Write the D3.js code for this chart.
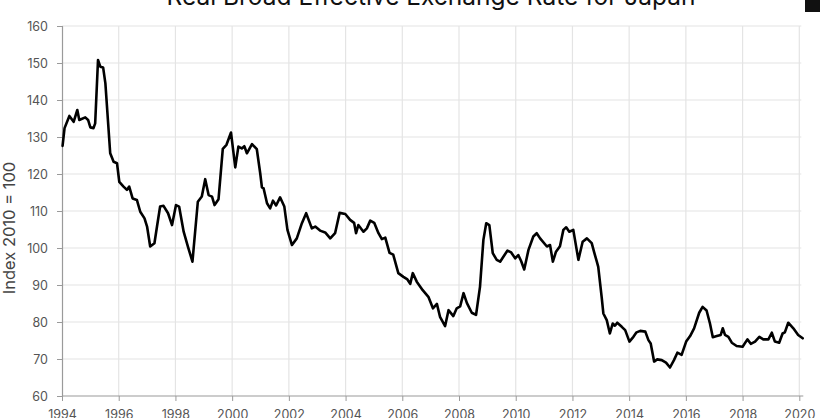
<!DOCTYPE html>
<html>
<head>
<meta charset="utf-8">
<script src="https://cdn.jsdelivr.net/npm/d3@7"></script>
<style>
  html, body { margin: 0; padding: 0; background: #fff; }
  svg { display: block; font-family: Inter, "Open Sans", sans-serif; }
</style>
</head>
<body>
<svg id="chart" width="820" height="418"></svg>
<script>
const title = "Real Broad Effective Exchange Rate for Japan";
const yLabel = "Index 2010 = 100";
const xTickValues = [1994, 1996, 1998, 2000, 2002, 2004, 2006, 2008, 2010, 2012, 2014, 2016, 2018, 2020];
const yTickValues = [60, 70, 80, 90, 100, 110, 120, 130, 140, 150, 160];

const years = [
  1994.02, 1994.09, 1994.26, 1994.41, 1994.54, 1994.61, 1994.82, 1994.92, 1995.00, 1995.11,
  1995.17, 1995.27, 1995.35, 1995.45, 1995.53, 1995.70, 1995.82, 1995.94, 1996.02, 1996.17,
  1996.29, 1996.37, 1996.49, 1996.64, 1996.76, 1996.91, 1997.00, 1997.11, 1997.26, 1997.35,
  1997.46, 1997.58, 1997.74, 1997.88, 1998.02, 1998.13, 1998.29, 1998.44, 1998.60, 1998.79,
  1998.93, 1999.05, 1999.17, 1999.29, 1999.38, 1999.52, 1999.67, 1999.80, 1999.96, 2000.11,
  2000.22, 2000.34, 2000.43, 2000.52, 2000.70, 2000.87, 2000.99, 2001.05, 2001.11, 2001.23,
  2001.34, 2001.44, 2001.55, 2001.69, 2001.84, 2001.95, 2002.11, 2002.28, 2002.46, 2002.61,
  2002.81, 2002.93, 2003.10, 2003.28, 2003.46, 2003.63, 2003.79, 2003.99, 2004.16, 2004.30,
  2004.37, 2004.45, 2004.63, 2004.75, 2004.87, 2005.01, 2005.16, 2005.28, 2005.40, 2005.55,
  2005.68, 2005.86, 2006.04, 2006.18, 2006.28, 2006.37, 2006.51, 2006.72, 2006.92, 2007.08,
  2007.22, 2007.33, 2007.51, 2007.63, 2007.80, 2007.92, 2008.04, 2008.16, 2008.28, 2008.45,
  2008.60, 2008.74, 2008.86, 2008.96, 2009.07, 2009.19, 2009.33, 2009.45, 2009.57, 2009.71,
  2009.84, 2009.98, 2010.09, 2010.19, 2010.30, 2010.45, 2010.62, 2010.74, 2010.86, 2011.10,
  2011.21, 2011.31, 2011.42, 2011.56, 2011.68, 2011.78, 2011.89, 2012.03, 2012.21, 2012.36,
  2012.51, 2012.68, 2012.76, 2012.86, 2012.91, 2013.03, 2013.09, 2013.21, 2013.32, 2013.42,
  2013.50, 2013.58, 2013.74, 2013.86, 2014.01, 2014.15, 2014.26, 2014.39, 2014.57, 2014.68,
  2014.76, 2014.88, 2014.99, 2015.15, 2015.30, 2015.44, 2015.58, 2015.70, 2015.85, 2016.01,
  2016.15, 2016.29, 2016.47, 2016.59, 2016.73, 2016.85, 2016.95, 2017.09, 2017.23, 2017.30,
  2017.38, 2017.50, 2017.62, 2017.79, 2018.00, 2018.17, 2018.29, 2018.44, 2018.59, 2018.73,
  2018.91, 2019.03, 2019.14, 2019.29, 2019.41, 2019.49, 2019.61, 2019.79, 2019.96, 2020.12
];
const values = [
  127.6, 132.4, 135.7, 134.1, 137.3, 134.6, 135.3, 134.6, 132.6, 132.4,
  133.7, 150.8, 149.0, 148.8, 144.5, 125.6, 123.3, 122.9, 117.9, 116.6,
  115.7, 116.6, 113.4, 113.0, 109.8, 108.0, 105.8, 100.4, 101.3, 105.8,
  111.2, 111.4, 109.4, 106.2, 111.6, 111.2, 104.4, 100.4, 96.3, 112.5,
  113.9, 118.6, 114.3, 113.9, 111.6, 113.2, 126.8, 127.9, 131.2, 121.8,
  127.4, 126.9, 127.5, 125.6, 128.1, 126.7, 120.2, 116.4, 116.1, 112.1,
  110.7, 112.8, 111.5, 113.7, 111.2, 104.9, 100.8, 102.6, 106.7, 109.4,
  105.3, 105.8, 104.7, 104.2, 102.6, 104.0, 109.5, 109.2, 107.6, 106.8,
  104.0, 106.2, 104.4, 105.3, 107.4, 106.8, 104.0, 102.4, 102.8, 98.7,
  98.2, 93.2, 92.2, 91.5, 90.3, 93.2, 90.9, 88.6, 86.8, 83.7,
  84.9, 81.4, 78.9, 83.2, 81.6, 83.7, 84.2, 87.8, 85.1, 82.5,
  81.9, 89.5, 102.2, 106.7, 106.2, 98.6, 96.8, 96.3, 97.7, 99.3,
  98.8, 97.2, 98.1, 96.5, 94.2, 99.5, 103.1, 104.0, 102.6, 100.4,
  100.8, 96.3, 99.0, 100.5, 104.9, 105.6, 104.4, 104.9, 96.8, 101.7,
  102.6, 101.3, 99.0, 96.3, 94.9, 86.8, 82.3, 80.5, 76.9, 79.6,
  79.0, 79.8, 78.7, 77.8, 74.7, 76.0, 77.2, 77.6, 77.4, 75.1,
  74.2, 69.3, 69.9, 69.7, 69.0, 67.7, 69.7, 71.7, 71.1, 74.7,
  76.2, 78.3, 82.5, 84.1, 83.1, 79.6, 75.9, 76.2, 76.5, 78.3,
  76.5, 76.0, 74.4, 73.5, 73.3, 75.3, 74.1, 74.7, 76.0, 75.3,
  75.3, 77.1, 74.7, 74.4, 76.9, 77.2, 79.8, 78.3, 76.5, 75.6
];

const data = years.map((y, i) => ({ year: y, value: values[i] }));

const svg = d3.select("#chart");
const W = 820, H = 418;
const margin = { left: 62, right: 20.7, top: 26, bottom: 22 };

const x = d3.scaleLinear().domain([1994, 2020]).range([margin.left, W - margin.right]);
const y = d3.scaleLinear().domain([60, 160]).range([H - margin.bottom, margin.top]);

// Gridlines
svg.append("g")
  .selectAll("line.hg")
  .data(yTickValues.slice(1))
  .join("line")
  .attr("x1", margin.left).attr("x2", x(2020) + 2)
  .attr("y1", d => y(d)).attr("y2", d => y(d))
  .attr("stroke", "#e4e4e4").attr("stroke-width", 1.2);

svg.append("g")
  .selectAll("line.vg")
  .data(xTickValues.slice(1))
  .join("line")
  .attr("x1", d => x(d)).attr("x2", d => x(d))
  .attr("y1", y(160)).attr("y2", y(60))
  .attr("stroke", "#e4e4e4").attr("stroke-width", 1.2);

// Axes
const yAxis = d3.axisLeft(y).tickValues(yTickValues).tickSize(5).tickPadding(9).tickFormat(d3.format("d"));
const gy = svg.append("g").attr("transform", `translate(${margin.left},0)`).call(yAxis);
gy.select(".domain").attr("stroke", "#9a9a9a").attr("stroke-width", 1.2);
gy.selectAll(".tick line").attr("stroke", "#9a9a9a");
gy.selectAll("text").attr("fill", "#555").attr("font-size", 12.5).attr("font-family", "Inter, sans-serif");

const xAxis = d3.axisBottom(x).tickValues(xTickValues).tickSize(5).tickPadding(9).tickFormat(d3.format("d"));
const gx = svg.append("g").attr("transform", `translate(0,${y(60)})`).call(xAxis);
gx.select(".domain").attr("stroke", "#9a9a9a").attr("stroke-width", 1.2)
  .attr("d", `M${margin.left},0H${x(2020) + 4}`);
gx.selectAll(".tick line").attr("stroke", "#9a9a9a");
gx.selectAll("text").attr("fill", "#555").attr("font-size", 12.5).attr("font-family", "Inter, sans-serif");

// Line
const line = d3.line().x(d => x(d.year)).y(d => y(d.value));
svg.append("path")
  .datum(data)
  .attr("d", line)
  .attr("fill", "none")
  .attr("stroke", "#000")
  .attr("stroke-width", 2.6)
  .attr("stroke-linejoin", "round")
  .attr("stroke-linecap", "round");

// Title (cut off at top)
svg.append("text")
  .attr("x", 431).attr("y", 5)
  .attr("text-anchor", "middle")
  .attr("font-size", 24.5)
  .attr("fill", "#111")
  .text(title);

// Y label
svg.append("text")
  .attr("transform", `translate(15,228) rotate(-90)`)
  .attr("text-anchor", "middle")
  .attr("font-size", 16.5)
  .attr("fill", "#444")
  .text(yLabel);

// Top-right dark marker
svg.append("rect").attr("x", 805).attr("y", 0).attr("width", 15).attr("height", 12).attr("fill", "#111");
</script>
</body>
</html>
